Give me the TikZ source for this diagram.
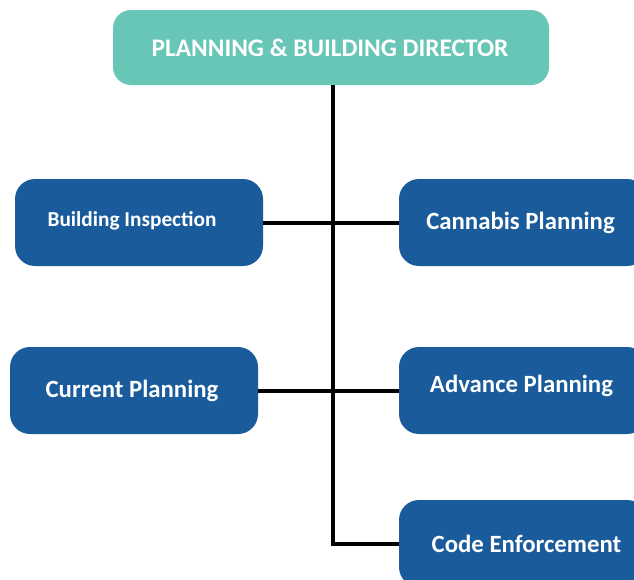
\documentclass[tikz,border=0pt]{standalone}
\usepackage{fontspec}
\setmainfont{Carlito}
\usepackage{xcolor}
\usepackage{tikz}
\usetikzlibrary{calc}
\definecolor{dirTeal}{RGB}{104,198,183}
\definecolor{deptBlue}{RGB}{26,91,156}
\tikzset{unitbox/.style={rectangle, rounded corners=20pt, fill=deptBlue, text=white,
  inner sep=0pt, minimum width=248pt, minimum height=87pt,
  font=\bfseries\fontsize{24.8}{29}\selectfont}}

\begin{document}
\begin{tikzpicture}[x=1pt,y=-1pt,
                    link/.style={draw=black,line width=4pt}]

\clip (0,0) rectangle (634,579);

%DIRECTOR
  \node[unitbox,fill=dirTeal,minimum width=436pt,minimum height=75pt,
        rounded corners=18pt,font=\bfseries\fontsize{25.3}{29}\selectfont]
        (director) at (331,47.5) {PLANNING \& BUILDING DIRECTOR\hspace*{2pt}};

%DIVISIONS
  \node[unitbox,font=\bfseries\fontsize{21.3}{25}\selectfont]
        (bldg) at (139,222.5) {\raisebox{7pt}{Building Inspection}\hspace*{14pt}};
  \node[unitbox] (cannabis) at (523,222.5) {\raisebox{2pt}{Cannabis Planning}\hspace*{5pt}};
  \node[unitbox] (current) at (134,390.5) {\raisebox{2pt}{Current Planning}\hspace*{4pt}};
  \node[unitbox] (advance) at (523,390.5) {\raisebox{14pt}{Advance Planning}\hspace*{3pt}};
  \node[unitbox] (code) at (523,543.5) {\hspace*{7pt}Code Enforcement};

%CONNECTORS
  \coordinate (trunk) at (333,0);
  \draw[link] (director.south -| trunk) -- (trunk |- code.west) -- (code.west);
  \draw[link] (bldg.east) -- (cannabis.west);
  \draw[link] (current.east) -- (advance.west);

\end{tikzpicture}
\end{document}
